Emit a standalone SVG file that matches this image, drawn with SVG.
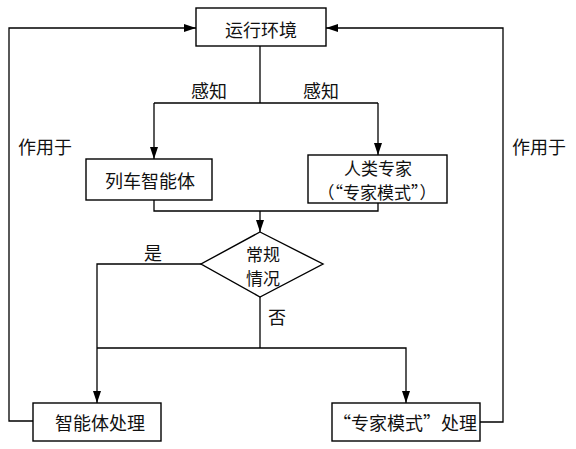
<svg xmlns="http://www.w3.org/2000/svg" width="576" height="449" viewBox="0 0 576 449">
<style>
.box{fill:#fff;stroke:#000;stroke-width:1.4}
.ln{fill:none;stroke:#000;stroke-width:1.3}
text{font-family:"Noto Sans CJK SC","Noto Sans CJK JP",sans-serif;font-size:18px;fill:#111;text-anchor:middle;dominant-baseline:central}
.sm{font-size:17px}
</style>
<defs>
<marker id="ar" markerWidth="12" markerHeight="8" refX="12" refY="4" orient="auto" markerUnits="userSpaceOnUse">
<path d="M0,0 L12,4 L0,8 Z" fill="#000"/>
</marker>
</defs>
<rect width="576" height="449" fill="#fff"/>
<g id="connectors">
<path class="ln" d="M260,46 V103"/>
<path class="ln" d="M154,103 H378"/>
<path class="ln" d="M154,103 V159" marker-end="url(#ar)"/>
<path class="ln" d="M378,103 V155" marker-end="url(#ar)"/>
<path class="ln" d="M154,200 V211 H378 V203"/>
<path class="ln" d="M260,211 V232" marker-end="url(#ar)"/>
<path class="ln" d="M201,264 H97 V403" marker-end="url(#ar)"/>
<path class="ln" d="M260,297 V348"/>
<path class="ln" d="M97,348 H406 V403" marker-end="url(#ar)"/>
<path class="ln" d="M33,421 H9 V28 H196" marker-end="url(#ar)"/>
<path class="ln" d="M480,422 H503 V28 H326" marker-end="url(#ar)"/>
<text x="209" y="90">感知</text>
<text x="321" y="90">感知</text>
<text x="45" y="146">作用于</text>
<text x="539" y="146">作用于</text>
<text x="153" y="252">是</text>
<text x="277" y="316">否</text>
</g>
<g id="env">
<rect class="box" x="196" y="8" width="130" height="38"/>
<text x="261" y="29">运行环境</text>
</g>
<g id="agent">
<rect class="box" x="86" y="159" width="126" height="41"/>
<text x="150" y="180">列车智能体</text>
</g>
<g id="expert">
<rect class="box" x="308" y="155" width="139" height="48"/>
<text class="sm" x="378" y="167">人类专家</text>
<text class="sm" x="377" y="191">（“专家模式”）</text>
</g>
<g id="decision">
<path class="box" d="M260,232 L323,264 L260,297 L201,264 Z"/>
<text class="sm" x="263" y="253">常规</text>
<text class="sm" x="263" y="277">情况</text>
</g>
<g id="agentproc">
<rect class="box" x="33" y="403" width="128" height="38"/>
<text x="100" y="422">智能体处理</text>
</g>
<g id="expertproc">
<rect class="box" x="332" y="403" width="148" height="38"/>
<text x="405" y="422">“专家模式”处理</text>
</g>
</svg>
